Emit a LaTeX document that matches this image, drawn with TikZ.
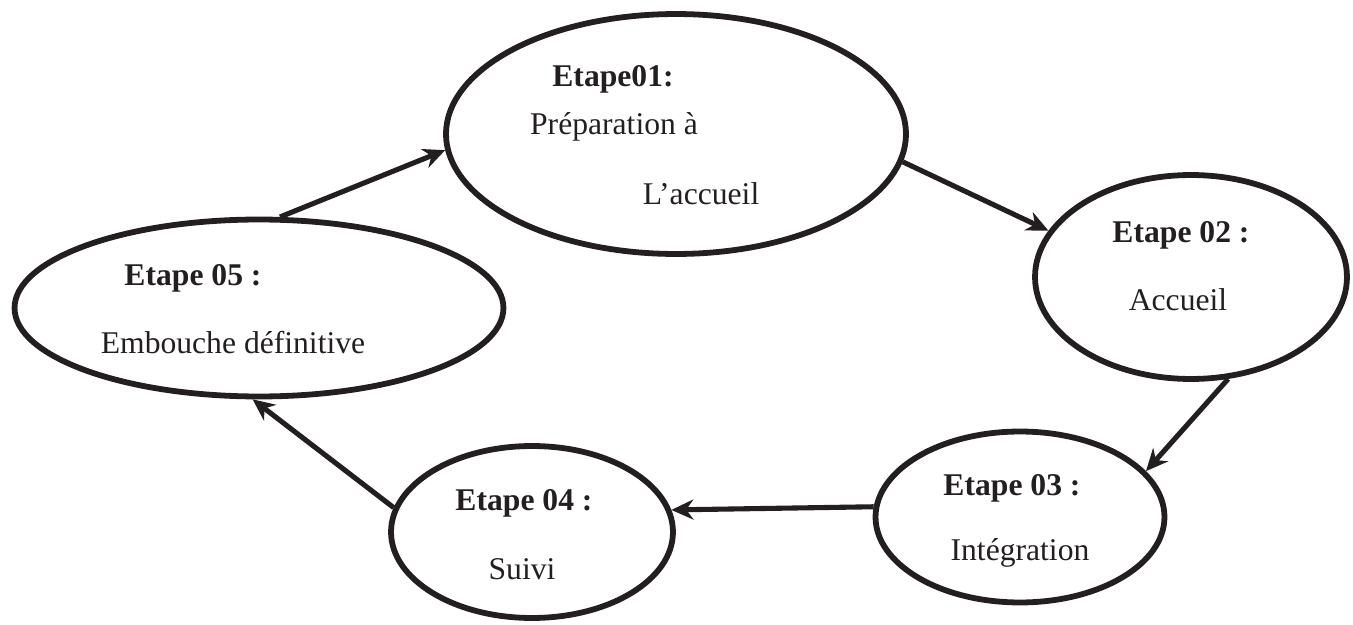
\documentclass[tikz,border=0pt]{standalone}
\usepackage{fontspec}
\setmainfont{Liberation Serif}
\usetikzlibrary{shapes.geometric,arrows.meta}
\definecolor{inkblack}{RGB}{35,31,32}

\begin{document}
\begin{tikzpicture}[x=0.02cm, y=-0.02cm,
    stage/.style={draw=inkblack, line width=3.3pt, ellipse, inner sep=0pt},
    steptitle/.style={anchor=base, font=\fontsize{18}{22}\selectfont\bfseries, text=inkblack},
    steptext/.style={anchor=base, font=\fontsize{18}{22}\selectfont, text=inkblack},
    flow/.style={-{Stealth[length=0.44cm, width=0.4cm]}, line width=2.9pt, draw=inkblack}]
    \useasboundingbox (0,0) rectangle (1353,625);

    % Stage ellipses
    \node[stage, minimum width=9.2cm, minimum height=4.8cm] (etape1) at (676,134) {};
    \node[stage, minimum width=6.24cm, minimum height=4.08cm] (etape2) at (1191,277) {};
    \node[stage, minimum width=5.78cm, minimum height=3.42cm] (etape3) at (1020,517) {};
    \node[stage, minimum width=5.64cm, minimum height=3.44cm] (etape4) at (532,532) {};
    \node[stage, minimum width=9.78cm, minimum height=3.54cm] (etape5) at (259,308) {};

    % Labels
    \node[steptitle] (titre1) at (613,87) {Etape01:};
    \node[steptext] (texte1a) at (614,134) {Préparation à};
    \node[steptext] (texte1b) at (701,204) {L’accueil};

    \node[steptitle] (titre2) at (1181,242) {Etape 02 :};
    \node[steptext] (texte2) at (1178,310) {Accueil};

    \node[steptitle] (titre3) at (1012,495) {Etape 03 :};
    \node[steptext] (texte3) at (1020,560) {Intégration};

    \node[steptitle] (titre4) at (524,510) {Etape 04 :};
    \node[steptext] (texte4) at (522,579) {Suivi};

    \node[steptitle] (titre5) at (193,285) {Etape 05 :};
    \node[steptext] (texte5) at (233,353) {Embouche définitive};

    % Cycle arrows
    \draw[flow] (etape5.77) -- (etape1.184);
    \draw[flow] (etape1.353) -- (etape2.162);
    \draw[flow] (etape2.290) -- (etape3.20);
    \draw[flow] (etape3.176) -- (etape4.9);
    \draw[flow] (etape4.170) -- (etape5.266);
\end{tikzpicture}
\end{document}
